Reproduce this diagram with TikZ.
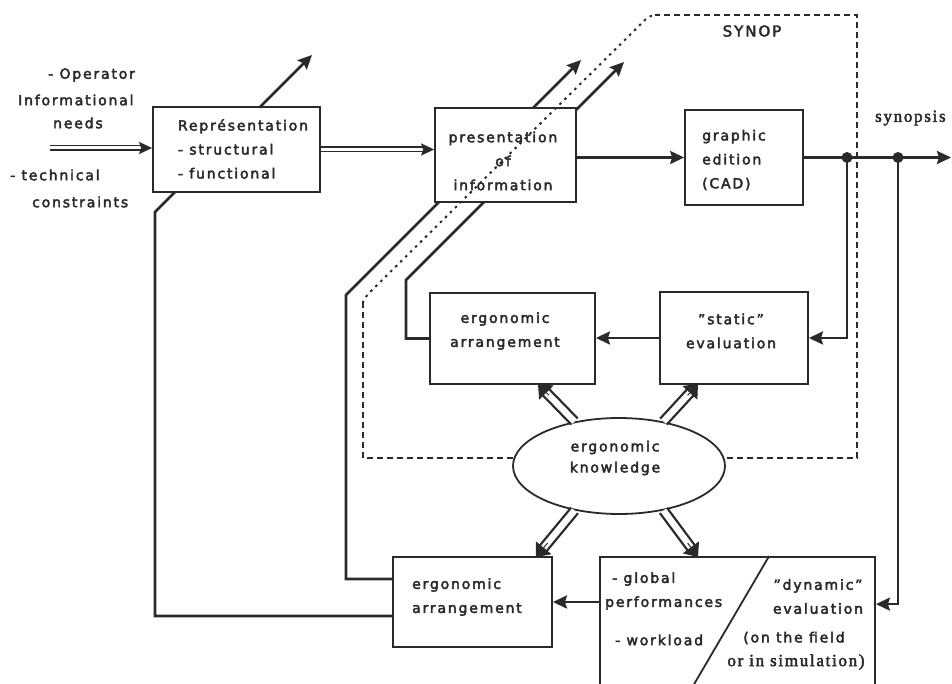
\documentclass[tikz,border=0pt]{standalone}
\usepackage{fontspec}
\setmainfont{DejaVu Sans}[LetterSpace=13, FakeBold=3]
\newfontfamily\serifx{Liberation Serif}[LetterSpace=10, FakeBold=2.5]
\usetikzlibrary{arrows.meta,backgrounds,calc,shapes.geometric}
\definecolor{ink}{HTML}{2A2A2A}
\newcommand{\harrow}[2]{%
  \draw[ink, line width=11pt, shorten >=10pt] (#1) -- (#2);
  \draw[white, line width=6.4pt, shorten >=8pt] (#1) -- (#2);
  \draw[ink, line width=1pt, -{Triangle[length=12pt,width=20pt]}] ($(#1)!0.7!(#2)$) -- (#2);}
\begin{document}
\begin{tikzpicture}[x=1pt,y=-1pt,
  every node/.style={text=ink},
  blk/.style={draw=ink, line width=1.8pt, fill=white, inner sep=0pt},
  txt/.style={inner sep=0pt, align=left},
  conn/.style={draw=ink, line width=2.6pt, -{Stealth[length=14pt,width=13pt,inset=2pt]}},
  plainln/.style={draw=ink, line width=2.6pt},
  dbl/.style={draw=ink, line width=1.5pt, double distance=3pt, -{Stealth[length=13pt,width=12pt,inset=2pt]}},
  synline/.style={draw=ink, line width=1.8pt, dash pattern=on 6pt off 4pt},
  syndot/.style={draw=ink, line width=2pt, dash pattern=on 2.5pt off 4.5pt},
  font=\fontsize{14}{24}\selectfont
]
\clip (0,0) rectangle (952,684);

% boxes
\node[blk, minimum width=167pt, minimum height=85pt] (repr) at (236.5,149.5) {};
\node[txt] (reprT) at (243,149) {Représentation\\- structural\\- functional};

\node[blk, minimum width=141pt, minimum height=94pt] (pres) at (505.5,155) {};

\node[blk, minimum width=118pt, minimum height=95pt] (graph) at (744,157.5) {};
\node[txt, anchor=west] (graphT) at (702,160) {graphic\\edition\\(CAD)};

\node[blk, minimum width=165pt, minimum height=91pt] (ergoA) at (512.5,338.5) {};
\node[txt, align=center] (ergoAT) at (505,331) {ergonomic\\arrangement};

\node[blk, minimum width=148pt, minimum height=92pt] (stat) at (734,338) {};
\node[txt, align=center] (statT) at (731,331) {"static"\\evaluation};

\node[ellipse, draw=ink, line width=1.8pt, fill=white, minimum width=212pt, minimum height=96pt, inner sep=0pt] (know) at (619,466) {};
\node[txt, align=center, font=\fontsize{14}{21}\selectfont] (knowT) at (615,458) {ergonomic\\knowledge};

\node[blk, minimum width=159pt, minimum height=90pt] (ergoB) at (472.5,602) {};
\node[txt, anchor=west] (ergoBT) at (412,597) {ergonomic\\arrangement};

\node[blk, minimum width=275pt, minimum height=140pt] (dyn) at (737.5,627) {};
\draw[draw=ink, line width=1.8pt] ($(dyn.north west)+(170,0)$) -- ($(dyn.north west)+(88,140)$);
\node[txt, anchor=west] (dg) at (612,579) {- global};
\node[txt, anchor=west] (dp) at (605,603) {performances};
\node[txt, anchor=west] (dw) at (615,640) {- workload};
\node[txt, align=center] (dd) at (818,596.5) {"dynamic"\\evaluation};
\node[txt] (df) at (794,638) {(on the field};
\node[txt, font=\serifx\fontsize{17}{20}\selectfont] (ds) at (796,662) {or in simulation)};

% labels
\node[txt, anchor=west] (l1) at (48,75) {- Operator};
\node[txt, anchor=west] (l2) at (18,100) {Informational};
\node[txt, anchor=west] (l3) at (53,123) {needs};
\node[txt, anchor=west] (l4) at (10,175) {- technical};
\node[txt, anchor=west] (l5) at (32,202) {constraints};
\node[txt, font=\fontsize{15}{20}\selectfont] (synop) at (752,31) {SYNOP};
\node[txt, anchor=west, font=\serifx\fontsize{17}{20}\selectfont] (syn) at (875,118) {synopsis};

% junction dots
\node[circle, fill=ink, inner sep=0pt, minimum size=11pt] (dot1) at (847,157.5) {};
\node[circle, fill=ink, inner sep=0pt, minimum size=11pt] (dot2) at (898,157.5) {};
\coordinate (outE) at (951,157.5);
\coordinate (inS) at (50,148);

% feedback lines and SYNOP frame behind the boxes
\begin{pgfonlayer}{background}
\draw[conn] ($(ergoB.west)+(0,-23)$) -| (346,295) -- (581,60);
\draw[conn] ($(ergoB.west)+(0,14)$) -| (155,212) -- (312,55);
\draw[conn] (ergoA.west) -| (406,280) -- (624,62);
\draw[synline] (363,302) -- (363,458) -- (857,458) -- (857,15) -- (655,15);
\end{pgfonlayer}
\draw[syndot, rounded corners=6pt] (363,302) -- (365,297) -- (650,15) -- (660,15);

% presentation text over dotted line
\node[txt, align=center] (presT) at (503,161) {presentation\\of\\information};

% main flow
\draw[dbl] (inS) -- (repr.west |- inS);
\draw[dbl] (repr.east) -- (pres.west |- repr.east);
\draw[conn] (pres.east |- graph.west) -- (graph.west);
\draw[plainln] (graph.east) -- (dot1.center) -- (dot2.center);
\draw[conn] (dot2.center) -- (outE);
\draw[conn] (dot1.center) |- (stat.east);
\draw[conn] (dot2.center) |- ($(dyn.north east)+(0,48)$);
\draw[conn] (stat.west) -- (ergoA.east |- stat.west);
\draw[conn] (dyn.west |- ergoB.east) -- (ergoB.east);

% knowledge arrows
\coordinate (t1) at (538,384);
\coordinate (t2) at (698,384);
\coordinate (t3) at (536,557);
\coordinate (t4) at (698,557);
\harrow{know.135}{t1}
\harrow{know.45}{t2}
\harrow{know.225}{t3}
\harrow{know.315}{t4}
\end{tikzpicture}
\end{document}
